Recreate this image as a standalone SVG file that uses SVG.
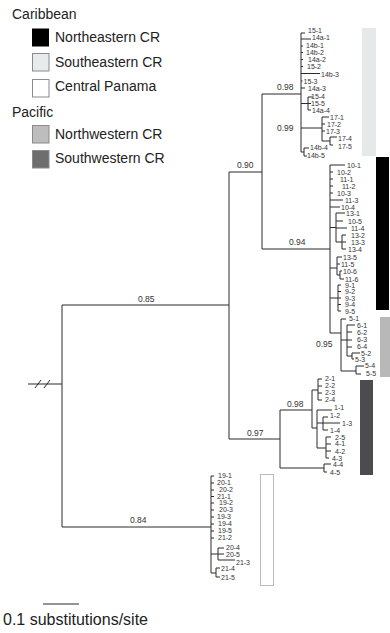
<svg xmlns="http://www.w3.org/2000/svg" width="390" height="633" viewBox="0 0 390 633">
<style>
.lg{font-family:"Liberation Sans",Arial,sans-serif;font-size:14px;fill:#222}
.tip{font-family:"Liberation Sans",Arial,sans-serif;font-size:7px;fill:#333}
.sup{font-family:"Liberation Sans",Arial,sans-serif;font-size:8.5px;fill:#333}
.br{fill:none;stroke:#2a2a2a;stroke-width:1}
.box{stroke:#8a8a8a;stroke-width:1}
</style>
<rect width="390" height="633" fill="#fff"/>
<g id="legend">
<g id="leg-caribbean"><text class="lg" x="12" y="19">Caribbean</text></g>
<g id="leg-ne"><rect x="32" y="28.5" width="17" height="18" fill="#000"/><text class="lg" x="55" y="42">Northeastern CR</text></g>
<g id="leg-se"><rect class="box" x="32.5" y="53.5" width="16.5" height="17.5" fill="#e8ebeb"/><text class="lg" x="55" y="67">Southeastern CR</text></g>
<g id="leg-cp"><rect class="box" x="32.5" y="79.5" width="16.5" height="17.5" fill="#fff"/><text class="lg" x="55" y="91">Central Panama</text></g>
<g id="leg-pacific"><text class="lg" x="12" y="117">Pacific</text></g>
<g id="leg-nw"><rect class="box" x="32.5" y="125.5" width="16.5" height="17.5" fill="#bdbdbd"/><text class="lg" x="55" y="139">Northwestern CR</text></g>
<g id="leg-sw"><rect class="box" x="32.5" y="150.5" width="16.5" height="17.5" fill="#6e6e6e" stroke="#555"/><text class="lg" x="55" y="163">Southwestern CR</text></g>
</g>
<g id="bars">
<rect id="bar-se" x="362" y="28" width="14" height="128" fill="#e6e9e9"/>
<rect id="bar-ne" x="376" y="157" width="13" height="153" fill="#000"/>
<rect id="bar-nw" x="380" y="317" width="10" height="60" fill="#b8b8b8"/>
<rect id="bar-sw" x="360" y="380" width="13" height="95" fill="#4b4b50"/>
<rect id="bar-cp" x="260.5" y="474.5" width="13" height="111" fill="#fff" stroke="#bbb"/>
</g>
<g id="connectors" class="br">
<path d="M62 305 V527 M62 305 H229 M229 172 V439 M62 527 H211 M28 384 H62 M35 388 L41 380 M44 388 L50 380"/>
<path d="M229 172 H262 M262 94 V249"/>
<path d="M262 94 H301 M301 33 V152 M301 33 H305 M301 39 H311 M301 46 H303 M301 52.5 H303 M301 59.5 H303 M301 66.5 H303 M301 73.5 H320 M301 81 H302.5 M301 88 H305 M301 103.5 H308 M308 97 V110 M308 97 H313 M308 103.5 H311 M308 110 H311 M301 128 H322 M322 117 V141 M322 117 H329 M322 124 H325 M322 131 H325 M322 141 H330 M330 137 V145 M330 137 H337 M330 145 H333 M301 152 H304 M304 148 V156 M304 148 H309 M304 156 H307"/>
<path d="M262 249 H330 M330 165 V333 M330 165 H345 M330 172 H333 M330 179 H333 M330 186 H333 M330 193 H333 M330 200 H343 M330 207 H340 M330 227.5 H336 M336 213 V242 M336 213 H345 M336 221 H343 M336 228 H347 M336 242 H342 M342 235 V249 M342 235 H346 M342 242 H346 M342 249 H346 M330 268 H337 M337 257 V275 M337 257 H342 M337 264 H340 M337 275 H340 M340 271 V279 M340 271 H342 M340 279 H344 M330 298 H338 M338 285 V311 M338 285 H341 M338 291.5 H341 M338 298 H341 M338 304.5 H341 M338 311 H341"/>
<path d="M330 333 H341 M341 319 V371 M341 319 H346 M341 340 H347 M347 325 V356 M347 325 H355 M347 332 H352 M347 340 H352 M347 347 H352 M347 356 H352 M352 353 V359 M352 353 H360 M352 359 H354 M341 371 H356 M356 366 V374 M356 366 H364 M356 374 H361"/>
<path d="M229 439 H280 M280 410 V468 M280 410 H312 M312 390 V428 M312 390 H318 M318 379 V400 M318 379 H322 M318 386 H322 M318 393 H322 M318 400 H322 M312 428 H317 M317 410 V448 M317 410 H332 M317 423 H323 M323 417 V430 M323 417 H328 M323 423 H340 M323 430 H328 M317 448 H326 M326 437 V458 M326 437 H331 M326 444 H331 M326 451 H331 M326 458 H329 M280 468 H324 M324 464 V472 M324 464 H331 M324 472 H327"/>
<path d="M211 476 V573 M211 476 H214 M211 483 H214 M211 490 H214 M211 496.5 H214 M211 503 H214 M211 510 H214 M211 517 H214 M211 524 H214 M211 531 H214 M211 538 H214 M211 554 H218 M218 548 V560 M218 548 H224 M218 554 H224 M218 560 H235 M211 573 H216 M216 568 V577 M216 568 H220 M216 577 H220"/>
<path d="M43 604 H79"/>
</g>
<g id="support">
<g id="s085"><text class="sup" x="138" y="302">0.85</text></g>
<g id="s090"><text class="sup" x="237" y="168">0.90</text></g>
<g id="s098a"><text class="sup" x="277" y="90">0.98</text></g>
<g id="s099"><text class="sup" x="277" y="131">0.99</text></g>
<g id="s094"><text class="sup" x="289" y="245">0.94</text></g>
<g id="s095"><text class="sup" x="316" y="347">0.95</text></g>
<g id="s097"><text class="sup" x="247" y="436">0.97</text></g>
<g id="s098b"><text class="sup" x="287" y="407">0.98</text></g>
<g id="s084"><text class="sup" x="130" y="523">0.84</text></g>
</g>
<g id="clade-southeastern" class="tip">
<text x="308" y="33">15-1</text>
<text x="312" y="40">14a-1</text>
<text x="306" y="48">14b-1</text>
<text x="306" y="54.5">14b-2</text>
<text x="308" y="61.5">14a-2</text>
<text x="307" y="68.5">15-2</text>
<text x="321" y="77">14b-3</text>
<text x="303.5" y="83.5">15-3</text>
<text x="308" y="90.5">14a-3</text>
<text x="311" y="99">15-4</text>
<text x="311" y="105.5">15-5</text>
<text x="312" y="113">14a-4</text>
<text x="330" y="120">17-1</text>
<text x="327" y="127">17-2</text>
<text x="326" y="134">17-3</text>
<text x="338" y="140.5">17-4</text>
<text x="338" y="149">17-5</text>
<text x="310" y="149.5">14b-4</text>
<text x="307" y="158">14b-5</text>
</g>
<g id="clade-northeastern" class="tip">
<text x="347" y="167.5">10-1</text>
<text x="337" y="174.5">10-2</text>
<text x="340" y="181.5">11-1</text>
<text x="342" y="188.5">11-2</text>
<text x="337" y="195.5">10-3</text>
<text x="345" y="202.5">11-3</text>
<text x="341" y="209.5">10-4</text>
<text x="346" y="215.5">13-1</text>
<text x="348" y="223.5">10-5</text>
<text x="351" y="230.5">11-4</text>
<text x="351" y="237.5">13-2</text>
<text x="351" y="244.5">13-3</text>
<text x="348" y="251.5">13-4</text>
<text x="343" y="259.5">13-5</text>
<text x="341" y="266.5">11-5</text>
<text x="343" y="273.5">10-6</text>
<text x="345" y="281.5">11-6</text>
<text x="345" y="287.5">9-1</text>
<text x="345" y="294">9-2</text>
<text x="345" y="300.5">9-3</text>
<text x="345" y="307">9-4</text>
<text x="345" y="313.5">9-5</text>
</g>
<g id="clade-northwestern" class="tip">
<text x="349" y="321">5-1</text>
<text x="357" y="327.5">6-1</text>
<text x="357" y="334.5">6-2</text>
<text x="357" y="342">6-3</text>
<text x="357" y="349">6-4</text>
<text x="361" y="355.5">5-2</text>
<text x="355" y="361.5">5-3</text>
<text x="365" y="367.5">5-4</text>
<text x="366" y="376">5-5</text>
</g>
<g id="clade-southwestern" class="tip">
<text x="325" y="381">2-1</text>
<text x="325" y="388">2-2</text>
<text x="325" y="395">2-3</text>
<text x="325" y="402">2-4</text>
<text x="334" y="410">1-1</text>
<text x="330" y="418">1-2</text>
<text x="342" y="425.5">1-3</text>
<text x="330" y="433">1-4</text>
<text x="335" y="439.5">2-5</text>
<text x="335" y="446">4-1</text>
<text x="335" y="453.5">4-2</text>
<text x="332" y="460.5">4-3</text>
<text x="333" y="466.5">4-4</text>
<text x="330" y="474.5">4-5</text>
</g>
<g id="clade-centralpanama" class="tip">
<text x="218" y="478">19-1</text>
<text x="217" y="485">20-1</text>
<text x="219" y="492">20-2</text>
<text x="217" y="498.5">21-1</text>
<text x="219" y="505">19-2</text>
<text x="219" y="512">20-3</text>
<text x="217" y="519">19-3</text>
<text x="218" y="526">19-4</text>
<text x="218" y="533">19-5</text>
<text x="218" y="540">21-2</text>
<text x="226" y="550">20-4</text>
<text x="226" y="556.5">20-5</text>
<text x="236" y="565">21-3</text>
<text x="221" y="570.5">21-4</text>
<text x="221" y="579.5">21-5</text>
</g>
<g id="scale"><text class="lg" x="3" y="625" style="font-size:16px">0.1 substitutions/site</text></g>
</svg>
